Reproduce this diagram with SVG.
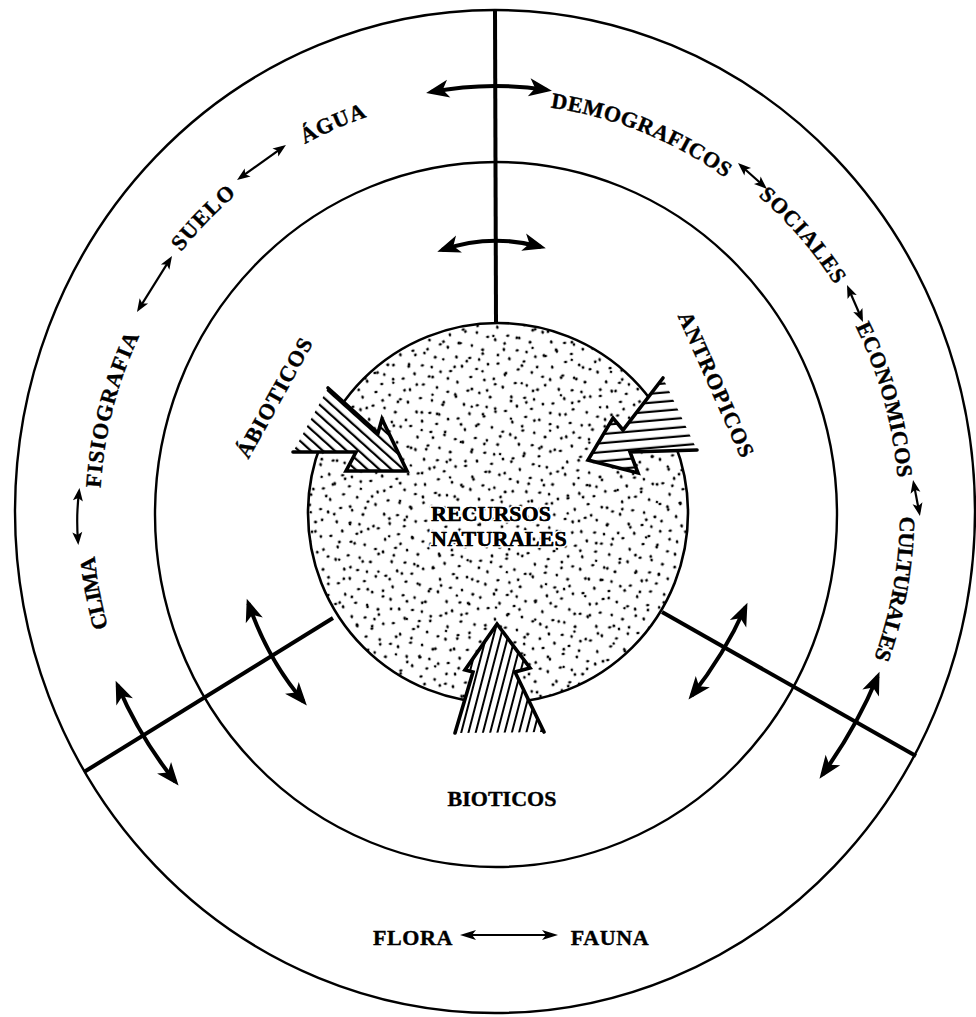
<svg xmlns="http://www.w3.org/2000/svg" width="976" height="1017" viewBox="0 0 976 1017">
<style>
.ring{fill:none;stroke:#000;stroke-width:2.4}
.div{stroke:#000;stroke-width:4;fill:none}
.big{fill:none;stroke:#000;stroke-width:4;marker-start:url(#hb);marker-end:url(#hb)}
.sm{fill:none;stroke:#000;stroke-width:2.2;marker-start:url(#hs);marker-end:url(#hs)}
.md{fill:none;stroke:#000;stroke-width:2.2;marker-start:url(#hm);marker-end:url(#hm)}
.lbl{font-family:"Liberation Serif",serif;font-weight:bold;font-size:22px;fill:#000;stroke:#000;stroke-width:0.4}
.halo{stroke:#fff;stroke-width:3.5px;paint-order:stroke}
.outl{fill:none;stroke:#000;stroke-width:3.6;stroke-linejoin:miter;stroke-linecap:round}
</style>
<defs>
<marker id="hb" markerUnits="userSpaceOnUse" markerWidth="30" markerHeight="24" viewBox="-24 -12 30 24" refX="0" refY="0" orient="auto-start-reverse"><path d="M5,0 L-18,-9 L-12,0 L-18,9 Z" fill="#000"/></marker>
<marker id="hs" markerUnits="userSpaceOnUse" markerWidth="20" markerHeight="14" viewBox="-14 -7 20 14" refX="0" refY="0" orient="auto-start-reverse"><path d="M4,0 L-9,-5 L-6,0 L-9,5 Z" fill="#000"/></marker>
<marker id="hm" markerUnits="userSpaceOnUse" markerWidth="22" markerHeight="14" viewBox="-16 -7 22 14" refX="0" refY="0" orient="auto-start-reverse"><path d="M4,0 L-12,-5 L-8,0 L-12,5 Z" fill="#000"/></marker>
<pattern id="dotsA" patternUnits="userSpaceOnUse" width="48" height="48" patternTransform="rotate(-9)">
<g fill="#000"><ellipse cx="3" cy="5" rx="1.7" ry="1.3"/><ellipse cx="15" cy="2" rx="1.4" ry="1.7"/><ellipse cx="29" cy="7" rx="1.6" ry="1.2"/><ellipse cx="41" cy="4" rx="1.4" ry="1.6"/><ellipse cx="8" cy="17" rx="1.3" ry="1.7"/><ellipse cx="22" cy="14" rx="1.7" ry="1.3"/><ellipse cx="35" cy="19" rx="1.4" ry="1.6"/><ellipse cx="45" cy="25" rx="1.6" ry="1.3"/><ellipse cx="4" cy="29" rx="1.4" ry="1.7"/><ellipse cx="17" cy="27" rx="1.7" ry="1.3"/><ellipse cx="28" cy="31" rx="1.3" ry="1.6"/><ellipse cx="38" cy="37" rx="1.6" ry="1.4"/><ellipse cx="11" cy="40" rx="1.4" ry="1.7"/><ellipse cx="24" cy="43" rx="1.7" ry="1.3"/><ellipse cx="33" cy="46" rx="1.3" ry="1.6"/></g>
</pattern>
<pattern id="dotsB" patternUnits="userSpaceOnUse" width="41" height="37" patternTransform="rotate(17)">
<g fill="#000"><circle cx="6" cy="9" r="1.4"/><circle cx="32" cy="12" r="1.5"/><circle cx="19" cy="24" r="1.4"/><circle cx="37" cy="29" r="1.3"/><circle cx="9" cy="33" r="1.4"/></g>
</pattern>
<pattern id="hatchL" patternUnits="userSpaceOnUse" width="8" height="8" patternTransform="rotate(-48)"><rect x="0" y="0" width="2.2" height="8" fill="#000"/></pattern>
<pattern id="hatchR" patternUnits="userSpaceOnUse" width="9" height="9" patternTransform="rotate(-95)"><rect x="0" y="0" width="2.2" height="9" fill="#000"/></pattern>
<pattern id="hatchB" patternUnits="userSpaceOnUse" width="7" height="7" patternTransform="rotate(14.6)"><rect x="0" y="0" width="2" height="7" fill="#000"/></pattern>
<clipPath id="coreClip"><circle cx="498" cy="513" r="190"/></clipPath>
<path id="pCLIMA" d="M150.4,726.7 A403.6,413.7 0 0 1 97.2,449.0"/>
<path id="pFISIO" d="M101.4,549.8 A396.2,406.1 0 0 1 170.7,281.2"/>
<path id="pSUELO" d="M128.0,339.5 A405.1,415.2 0 0 1 322.9,137.6"/>
<path id="pAGUA" d="M217.6,208.1 A407.4,417.6 0 0 1 474.0,96.0"/>
<path id="pDEMO" d="M506.1,103.9 A399.2,409.2 0 0 1 760.3,206.3"/>
<path id="pSOC" d="M689.5,147.7 A405.5,415.7 0 0 1 873.3,360.6"/>
<path id="pECO" d="M822.4,270.8 A403,413.1 0 0 1 898.0,542.5"/>
<path id="pCUL" d="M894.3,444.7 A403.8,413.9 0 0 1 843.9,723.1"/>
</defs>
<rect width="976" height="1017" fill="#fff"/>

<g id="ring-outer"><ellipse class="ring" cx="495" cy="511.5" rx="480" ry="501.5"/></g>
<g id="ring-middle"><ellipse class="ring" cx="496" cy="514.5" rx="341" ry="352.5" stroke-width="2.6"/></g>

<g id="core">
<circle cx="498" cy="513" r="190" fill="#fff"/>
<g clip-path="url(#coreClip)">
<rect x="300" y="320" width="400" height="390" fill="url(#dotsA)"/>
<rect x="300" y="320" width="400" height="390" fill="url(#dotsB)"/>
</g>
<circle cx="498" cy="513" r="190" fill="none" stroke="#000" stroke-width="2.6"/>
<text class="lbl halo" x="491" y="521" text-anchor="middle">RECURSOS</text>
<text class="lbl halo" x="499" y="546" text-anchor="middle" letter-spacing="0.2">NATURALES</text>
<text class="lbl" x="491" y="521" text-anchor="middle">RECURSOS</text>
<text class="lbl" x="499" y="546" text-anchor="middle" letter-spacing="0.2">NATURALES</text>
</g>

<g id="dividers">
<line class="div" x1="495" y1="10" x2="496" y2="323" stroke-width="3"/>
<line class="div" x1="333" y1="618" x2="84" y2="772"/>
<line class="div" x1="662" y1="612" x2="916" y2="756"/>
</g>

<g id="arrow-abioticos">
<polygon points="328,388 378,433 382,419 407,471 346,471 356,452 293,452" fill="#fff"/>
<polygon points="328,388 378,433 382,419 407,471 346,471 356,452 293,452" fill="url(#hatchL)"/>
<polyline class="outl" points="328,388 378,433 382,419 407,471 346,471 356,452 293,452"/>
</g>
<g id="arrow-antropicos">
<polygon points="663,378 623,430 613,418 588,460 638,473 630,452 697,450" fill="#fff"/>
<polygon points="663,378 623,430 613,418 588,460 638,473 630,452 697,450" fill="url(#hatchR)"/>
<polyline class="outl" points="663,378 623,430 613,418 588,460 638,473 630,452 697,450"/>
</g>
<g id="arrow-bioticos">
<polygon points="455,733 473,672 465,670 497,624 530,668 515,672 544,732" fill="#fff"/>
<polygon points="455,733 473,672 465,670 497,624 530,668 515,672 544,732" fill="url(#hatchB)"/>
<polyline class="outl" points="455,733 473,672 465,670 497,624 530,668 515,672 544,732"/>
</g>

<g id="connectors">
<path class="big" d="M431,92 Q489,81 547,90"/>
<path class="big" d="M442,250 Q491,233 541,247"/>
<path class="big" d="M248.4,603.4 Q268,660 303.6,701.6"/>
<path class="big" d="M117.6,685.3 Q140,738 175.4,781.7"/>
<path class="big" d="M745.4,607.3 Q724,655 691.6,695.7"/>
<path class="big" d="M877.6,676.4 Q856,728 822.4,774.6"/>
<path class="sm" d="M79,492 Q76,516 78,541"/>
<path class="sm" d="M139.1,308.6 L169.9,259.4"/>
<path class="sm" d="M240.3,177.7 L282.7,147.3"/>
<path class="sm" d="M741,165.7 L764,186.3"/>
<path class="sm" d="M848.6,288.7 L861.4,318.3"/>
<path class="sm" d="M913.8,483.9 L919.2,512.1"/>
<path class="md" d="M464,935 L554,935"/>
</g>

<g id="labels-outer">
<text class="lbl" letter-spacing="-0.8"><textPath href="#pCLIMA" startOffset="50%" text-anchor="middle">CLIMA</textPath></text>
<text class="lbl" letter-spacing="1.1"><textPath href="#pFISIO" startOffset="50%" text-anchor="middle">FISIOGRAFIA</textPath></text>
<text class="lbl" letter-spacing="1.3"><textPath href="#pSUELO" startOffset="50%" text-anchor="middle">SUELO</textPath></text>
<text class="lbl" letter-spacing="1"><textPath href="#pAGUA" startOffset="50%" text-anchor="middle">ÁGUA</textPath></text>
<text class="lbl" letter-spacing="0.5"><textPath href="#pDEMO" startOffset="50%" text-anchor="middle">DEMOGRAFICOS</textPath></text>
<text class="lbl" letter-spacing="0.9"><textPath href="#pSOC" startOffset="50%" text-anchor="middle">SOCIALES</textPath></text>
<text class="lbl" letter-spacing="0.3"><textPath href="#pECO" startOffset="50%" text-anchor="middle">ECONOMICOS</textPath></text>
<text class="lbl" letter-spacing="-0.4"><textPath href="#pCUL" startOffset="50%" text-anchor="middle">CULTURALES</textPath></text>
<text class="lbl" x="413" y="945" text-anchor="middle" letter-spacing="0.6">FLORA</text>
<text class="lbl" x="610" y="945" text-anchor="middle" letter-spacing="0.6">FAUNA</text>
</g>

<g id="labels-inner">
<text class="lbl" letter-spacing="1.1" text-anchor="middle" transform="translate(281,401) rotate(-61)">ÁBIOTICOS</text>
<text class="lbl" letter-spacing="1.1" text-anchor="middle" transform="translate(709.6,387.9) rotate(66)">ANTROPICOS</text>
<text class="lbl" x="502" y="806" text-anchor="middle">BIOTICOS</text>
</g>
</svg>
